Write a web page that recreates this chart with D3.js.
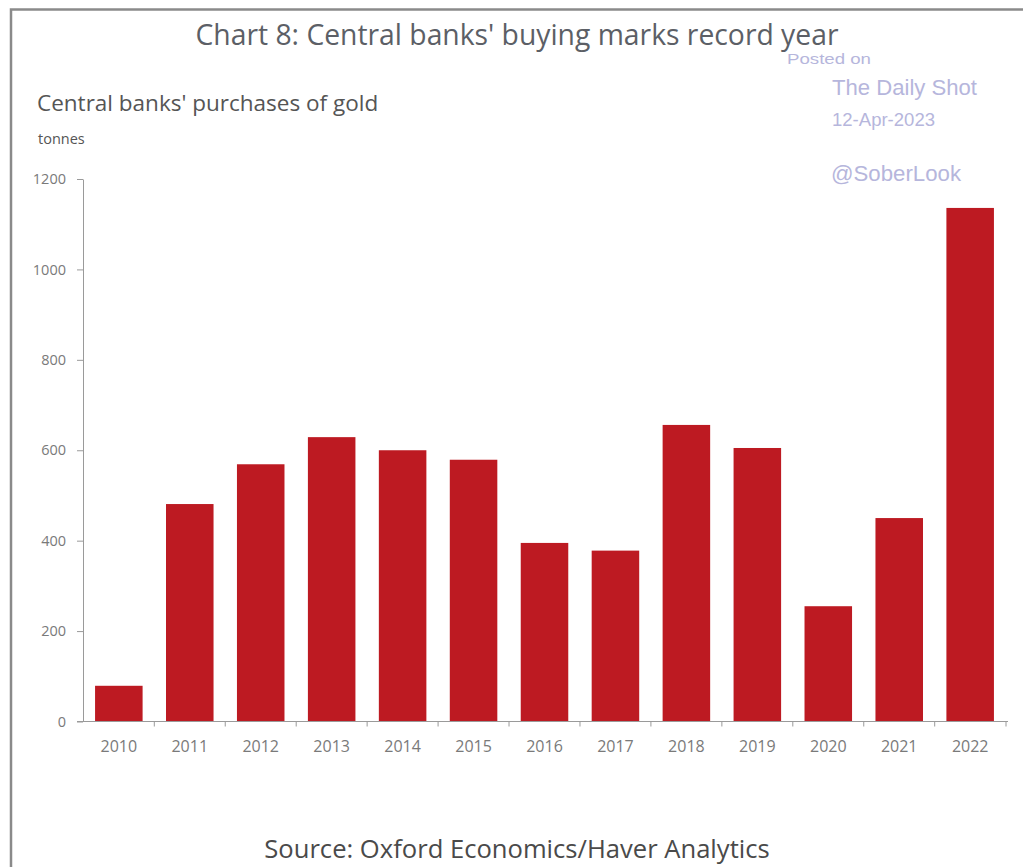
<!DOCTYPE html>
<html>
<head>
<meta charset="utf-8">
<script src="https://cdn.jsdelivr.net/npm/d3@7"></script>
<style>
  html, body { margin: 0; padding: 0; background: #fff; }
  svg { display: block; }
  text { font-family: "Open Sans", "Noto Sans", sans-serif; }
  .mark { font-family: "Liberation Sans", Arial, sans-serif; fill: #b6b6dc; }
</style>
</head>
<body>
<svg id="chart" width="1023" height="867"></svg>
<script>
// Central bank gold purchases, tonnes per year
const years = ["2010", "2011", "2012", "2013", "2014", "2015", "2016",
               "2017", "2018", "2019", "2020", "2021", "2022"];
const tonnes = [79, 481, 569, 629, 600, 579, 395, 378, 656, 605, 255, 450, 1136];
const yTicks = [0, 200, 400, 600, 800, 1000, 1200];

const svg = d3.select("#chart");

// outer frame (top and left edges)
svg.append("path")
  .attr("d", "M11,867 V9.5 H1023")
  .attr("fill", "none")
  .attr("stroke", "#8a8a8a")
  .attr("stroke-width", 2.5);

const margin = { left: 83, right: 1006, top: 179, bottom: 721.5 };

const x = d3.scaleBand()
  .domain(years)
  .range([margin.left, margin.right])
  .paddingInner(0.33)
  .paddingOuter(0.17);

const y = d3.scaleLinear()
  .domain([0, 1200])
  .range([margin.bottom, margin.top]);

// titles
svg.append("text")
  .attr("x", 517).attr("y", 44.5)
  .attr("text-anchor", "middle")
  .attr("font-size", 28.3)
  .attr("fill", "#5c5f66")
  .text("Chart 8: Central banks' buying marks record year");

svg.append("text")
  .attr("x", 37).attr("y", 111)
  .attr("font-size", 22.5)
  .attr("fill", "#555")
  .text("Central banks' purchases of gold");

svg.append("text")
  .attr("x", 38).attr("y", 144)
  .attr("font-size", 14.5)
  .attr("fill", "#555")
  .text("tonnes");

// bars
svg.append("g")
  .selectAll("rect")
  .data(years.map((yr, i) => ({ yr, v: tonnes[i] })))
  .join("rect")
  .attr("x", d => x(d.yr))
  .attr("width", x.bandwidth())
  .attr("y", d => y(d.v))
  .attr("height", d => y(0) - y(d.v))
  .attr("fill", "#bd1a22");

// y axis
const yAxis = svg.append("g")
  .attr("transform", `translate(${margin.left},0)`)
  .call(d3.axisLeft(y)
    .tickValues(yTicks)
    .tickFormat(d3.format("d"))
    .tickSize(6).tickPadding(11).tickSizeOuter(0));
yAxis.select(".domain").attr("stroke", "#9a9a9a");
yAxis.selectAll(".tick line").attr("stroke", "#9a9a9a");
yAxis.selectAll(".tick text")
  .attr("fill", "#7a7a7a")
  .attr("font-size", 14.5)
  .style("font-family", '"Open Sans", sans-serif');

// x axis: zero line with ticks between categories
const xAxisG = svg.append("g")
  .attr("transform", `translate(0,${y(0)})`);
xAxisG.append("line")
  .attr("x1", margin.left - 6).attr("x2", margin.right + 2)
  .attr("stroke", "#9a9a9a");
const step = x.step();
const bounds = years.slice(1).map(yr => x(yr) - (step - x.bandwidth()) / 2);
xAxisG.selectAll("line.tk")
  .data(bounds.concat([margin.right]))
  .join("line")
  .attr("class", "tk")
  .attr("x1", d => d).attr("x2", d => d)
  .attr("y1", 0).attr("y2", 5)
  .attr("stroke", "#9a9a9a");
xAxisG.selectAll("text")
  .data(years)
  .join("text")
  .attr("x", d => x(d) + x.bandwidth() / 2)
  .attr("y", 30.5)
  .attr("text-anchor", "middle")
  .attr("font-size", 16)
  .attr("fill", "#7a7a7a")
  .text(d => d);

// source note
svg.append("text")
  .attr("x", 517).attr("y", 858)
  .attr("text-anchor", "middle")
  .attr("font-size", 25.6)
  .attr("fill", "#4a4a4a")
  .text("Source: Oxford Economics/Haver Analytics");

// posting stamp
const stamp = [
  { t: "Posted on",      x: 787, y: 64,  s: 15.4, w: 84 },
  { t: "The Daily Shot", x: 832, y: 94.5, s: 22,  w: 145 },
  { t: "12-Apr-2023",    x: 832, y: 126, s: 17.5, w: 103 },
  { t: "@SoberLook",     x: 831, y: 181, s: 21.4, w: 130 }
];
svg.append("g").selectAll("text")
  .data(stamp)
  .join("text")
  .attr("class", "mark")
  .attr("x", d => d.x).attr("y", d => d.y)
  .attr("font-size", d => d.s)
  .attr("textLength", d => d.w)
  .attr("lengthAdjust", "spacingAndGlyphs")
  .text(d => d.t);
</script>
</body>
</html>
